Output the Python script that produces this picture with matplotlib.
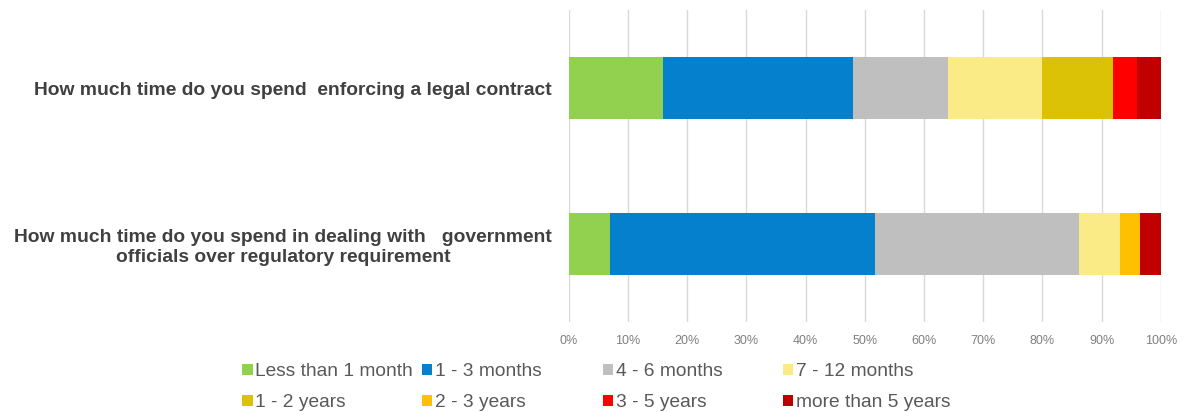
import matplotlib
import matplotlib.pyplot as plt
from matplotlib.patches import Patch
from matplotlib.ticker import PercentFormatter

questions = [
    "How much time do you spend in dealing with   government\nofficials over regulatory requirement",
    "How much time do you spend  enforcing a legal contract",
]
categories = ["Less than 1 month", "1 - 3 months", "4 - 6 months", "7 - 12 months",
              "1 - 2 years", "2 - 3 years", "3 - 5 years", "more than 5 years"]
# share of answers (%) per category, one value per question (bottom, top)
shares = [
    [6.9, 16.0],
    [44.8, 32.0],
    [34.5, 16.0],
    [6.9, 16.0],
    [0.0, 12.0],
    [3.4, 0.0],
    [0.0, 4.0],
    [3.5, 4.0],
]
colors = ["#92D050", "#0480CC", "#BFBFBF", "#FAEB87",
          "#DBC207", "#FFC000", "#FF0000", "#C00000"]
ticks = [0, 10, 20, 30, 40, 50, 60, 70, 80, 90, 100]

matplotlib.rcParams['font.family'] = ['Liberation Sans', 'DejaVu Sans']

fig = plt.figure(figsize=(11.89, 4.12), dpi=100)
ax = fig.add_axes([0.4783, 0.2184, 0.4980, 0.7573])

ypos = list(range(len(questions)))
left = [0.0] * len(questions)
for vals, col in zip(shares, colors):
    ax.barh(ypos, vals, left=left, height=0.4, color=col, edgecolor='none', zorder=3)
    left = [l + v for l, v in zip(left, vals)]

ax.set_xlim(0, 100)
ax.set_ylim(-0.5, 1.5)
ax.set_xticks(ticks)
ax.xaxis.set_major_formatter(PercentFormatter(decimals=0))
ax.set_yticks(ypos)
ax.set_yticklabels(questions, fontsize=13.9, fontweight='bold', color='#404040',
                   multialignment='center', linespacing=1.2)
ax.tick_params(axis='x', length=0, labelsize=9, labelcolor='#7f7f7f', pad=9)
ax.tick_params(axis='y', length=0, pad=12)
ax.grid(axis='x', color='#D9D9D9', linewidth=1, zorder=0)
for s in ax.spines.values():
    s.set_visible(False)

# legend laid out as 4 fixed-width columns, read row by row
col_x = [0.2035, 0.3545, 0.5071, 0.6585]
for i, x in enumerate(col_x):
    idx = [i, i + 4]
    handles = [Patch(facecolor=colors[j], edgecolor='none') for j in idx]
    fig.legend(handles, [categories[j] for j in idx], loc='upper left',
               bbox_to_anchor=(x, 0.118), frameon=False, fontsize=13.8,
               labelcolor='#595959', handlelength=0.55, handleheight=0.55,
               handletextpad=0.15, labelspacing=0.72, borderpad=0, borderaxespad=0)

fig.savefig("out.png", dpi=100)
